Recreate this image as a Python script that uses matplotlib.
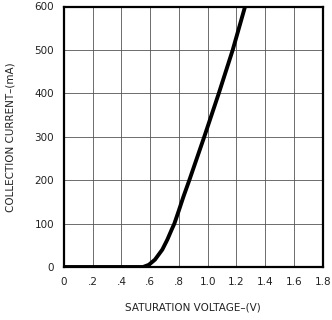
import matplotlib
matplotlib.use('Agg')
from matplotlib import pyplot as plt

# values
voltage = [0.0, 0.55, 0.59, 0.633, 0.684, 0.719, 0.749, 0.768, 0.80, 0.83, 0.872, 0.976, 1.077, 1.174, 1.26]
current = [0, 0, 5, 17, 40, 63, 86, 100, 131, 161, 200, 300, 400, 500, 600]

xTicks = [0.0, 0.2, 0.4, 0.6, 0.8, 1.0, 1.2, 1.4, 1.6, 1.8]
xTickLabels = ['0', '.2', '.4', '.6', '.8', '1.0', '1.2', '1.4', '1.6', '1.8']
yTicks = [0, 100, 200, 300, 400, 500, 600]

plt.rcParams['font.family'] = ['DejaVu Sans']

fig = plt.figure(figsize=(3.32, 3.20), dpi=100)
ax = fig.add_axes([64 / 332, 53 / 320, 258.7 / 332, 260.5 / 320])

ax.plot(voltage, current, color='black', linewidth=2.8, solid_capstyle='butt',
        solid_joinstyle='round')

ax.set_xlim(0, 1.8)
ax.set_ylim(0, 600)
ax.set_xticks(xTicks)
ax.set_xticklabels(xTickLabels)
ax.set_yticks(yTicks)
ax.grid(True, color='#555555', linewidth=0.6)
ax.tick_params(length=0, labelsize=7.5, colors='#222222', pad=7)
for spine in ax.spines.values():
    spine.set_linewidth(1.6)

ax.set_xlabel('SATURATION VOLTAGE\u2013(V)', fontsize=7.5, labelpad=11, color='#222222')
ax.set_ylabel('COLLECTION CURRENT\u2013(mA)', fontsize=7.5, labelpad=14, color='#222222')

fig.savefig('out.png', dpi=100)
